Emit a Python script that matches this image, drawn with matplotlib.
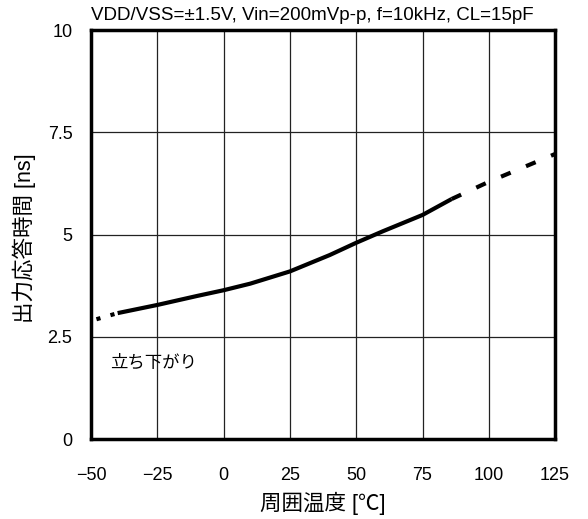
import matplotlib.pyplot as plt

plt.rcParams['font.family'] = ['Liberation Sans', 'Noto Sans CJK JP']

# solid part of the curve
temp_solid = [-40, -25, -10, 0, 10, 25, 40, 50, 60, 75, 86]
time_solid = [3.08, 3.28, 3.5, 3.64, 3.8, 4.1, 4.5, 4.8, 5.08, 5.48, 5.87]
# dashed extrapolation
temp_low = [-48, -40]
time_low = [2.93, 3.08]
temp_high = [86, 100, 125]
time_high = [5.87, 6.29, 6.97]

xticks = [-50, -25, 0, 25, 50, 75, 100, 125]
xtick_labels = ["\u221250", "\u221225", "0", "25", "50", "75", "100", "125"]
yticks = [0, 2.5, 5, 7.5, 10]
ytick_labels = ["0", "2.5", "5", "7.5", "10"]

fig = plt.figure(figsize=(5.88, 5.19), dpi=100)
ax = fig.add_axes([0.155, 0.154, 0.789, 0.788])

ax.plot(temp_solid, time_solid, color="black", lw=3, solid_capstyle="butt")
ax.plot(temp_low, time_low, color="black", lw=3, linestyle=(0, (1.0, 2.5)))
ax.plot(temp_high, time_high, color="black", lw=3, linestyle=(0, (2.5, 4)))

ax.set_xlim(-50, 125)
ax.set_ylim(0, 10)
ax.set_xticks(xticks)
ax.set_xticklabels(xtick_labels)
ax.set_yticks(yticks)
ax.set_yticklabels(ytick_labels)
ax.grid(True, color="#222222", lw=0.9)
ax.tick_params(length=0, labelsize=13)
ax.tick_params(axis="x", pad=20)
ax.tick_params(axis="y", pad=13.5)
for s in ax.spines.values():
    s.set_linewidth(2.5)

ax.text(-43, 1.86, "立ち下がり", fontsize=12.5, va="center")
fig.text(312 / 588, 1 - 16 / 519, "VDD/VSS=±1.5V, Vin=200mVp-p, f=10kHz, CL=15pF",
         fontsize=13.5, ha="center", va="center")
ax.set_xlabel("周囲温度 [℃]", fontsize=15.5, labelpad=6)
ax.set_ylabel("出力応答時間 [ns]", fontsize=15.5)
ax.yaxis.set_label_coords(-0.118, 0.49)

fig.savefig("out.png", dpi=100)
